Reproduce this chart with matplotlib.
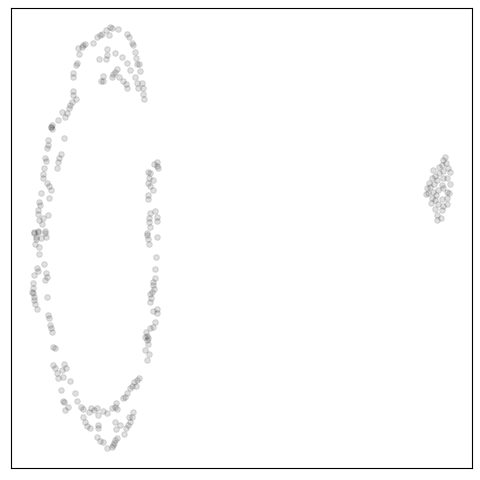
import matplotlib
matplotlib.use("Agg")
import matplotlib.pyplot as plt
import numpy as np

# point positions (x right, y down)
ring_x = [110, 112, 118, 106, 102, 100, 97, 109, 127, 129, 132, 133, 135, 136, 83, 85, 82, 78, 93,
          107, 79, 77, 76, 73, 73, 107, 115, 122, 106, 99, 127, 137, 139, 130, 117, 115, 113, 112,
          119, 123, 126, 127, 103, 101, 103, 135, 140, 137, 142, 143, 143, 144, 138, 73, 73, 76, 72,
          70, 69, 67, 65, 62, 58, 52, 51,
          51, 52, 48, 48, 47, 64, 45, 46, 61, 59, 58, 57, 44, 43, 43, 47, 49, 51, 41, 49, 39, 40, 38,
          38, 48, 43, 39, 42, 34, 38, 45,
          34, 38, 45, 46, 36, 36, 41, 35, 39, 39, 44, 37, 38, 46, 47, 45, 34, 33, 33, 32, 33, 34, 34,
          47, 35, 37, 48, 49, 50, 51, 52,
          53, 55, 53, 55, 57, 58, 62, 64, 66, 63, 70, 61, 75, 63, 64, 68, 77, 81, 83, 91, 94, 89, 97,
          103, 107, 112, 115, 117, 116, 98, 83, 85, 87, 90, 98, 98, 97, 100, 103, 107, 112, 114, 115,
          117, 113, 116, 115, 120, 124, 126, 128, 130, 132, 133, 129, 123, 125, 127, 130, 132, 134,
          137, 139, 136, 65]
ring_y = [27, 28, 29, 30, 34, 35, 37, 35, 34, 37, 43, 45, 52, 58, 45, 44, 47, 48, 43,
          49, 54, 63, 65, 73, 77, 55, 53, 57, 59, 59, 63, 64, 64, 70, 69, 72, 74, 77,
          77, 81, 84, 88, 76, 81, 81, 77, 71, 83, 83, 88, 94, 99, 88, 91, 95, 99, 102,
          105, 108, 113, 117, 112, 120, 125, 127,
          127, 129, 140, 145, 148, 138, 158, 161, 154, 158, 162, 168, 168, 174, 178, 183, 186, 190,
          193, 198, 202, 205, 210, 214, 215, 218, 220, 224, 232, 231, 231,
          233, 232, 233, 237, 237, 239, 238, 244, 247, 254, 264, 268, 271, 273, 277, 280, 275, 283,
          288, 292, 293, 297, 300, 297, 304, 309, 315, 318, 325, 328, 332,
          347, 348, 365, 368, 373, 378, 370, 364, 368, 377, 381, 390, 393, 401, 402, 407, 401, 407,
          409, 408, 410, 412, 408, 411, 413, 408, 407, 409, 403, 415, 417, 422, 426, 428, 425, 428,
          437, 441, 442, 448, 447, 443, 440, 438, 445, 429, 422, 425, 434, 428, 425, 422, 417, 412,
          417, 398, 397, 393, 388, 386, 382, 380, 378, 386, 410]

strip_x = [157, 157, 154, 158, 148, 150, 149, 153, 148, 150, 153, 148, 148, 150, 155, 157, 149, 157,
           149, 150, 147, 147, 148, 149, 157, 156, 155, 155, 153, 153, 154, 152, 150, 151, 150, 153,
           157, 157, 155, 153, 150, 146, 147, 148, 145, 147, 148, 145, 149, 147]
strip_y = [162, 166, 164, 168, 172, 173, 178, 180, 183, 186, 190, 195, 199, 213, 211, 217, 218, 221,
           222, 227, 233, 235, 239, 244, 237, 257, 269, 278, 282, 285, 289, 292, 294, 298, 302, 311,
           309, 313, 322, 327, 328, 332, 336, 338, 337, 340, 344, 350, 354, 360]

blob_x = [445, 443, 446, 442, 439, 448, 433, 443, 439, 450, 435, 432, 437, 443, 447, 429, 434, 442,
          450, 427, 428, 426, 433, 438, 447, 449, 432, 435, 442, 447, 438, 443, 447, 435, 442, 437,
          441, 437, 430, 443, 436, 431]
blob_y = [157, 160, 163, 165, 167, 168, 170, 171, 173, 172, 176, 178, 180, 178, 178, 183, 184, 185,
          184, 188, 193, 194, 192, 190, 192, 193, 198, 200, 199, 198, 204, 206, 204, 209, 210, 215,
          218, 220, 187, 188, 195, 203]

xs = np.array(ring_x + strip_x + blob_x)
ys = np.array(ring_y + strip_y + blob_y)

fig = plt.figure(figsize=(4.8, 4.8), dpi=100)
ax = fig.add_axes([0.023, 0.025, 0.96, 0.958])
ax.scatter(xs, ys, s=16, c="black", alpha=0.12, linewidths=0.8)
ax.set_xlim(11, 472)
ax.set_ylim(468, 8)
ax.set_xticks([])
ax.set_yticks([])
fig.savefig("out.png", dpi=100)
